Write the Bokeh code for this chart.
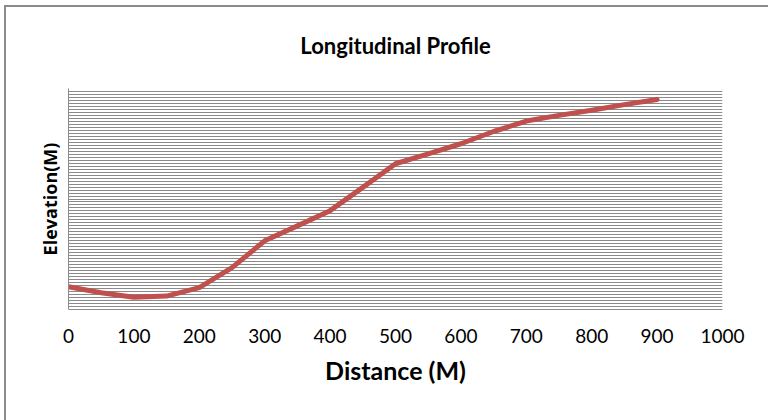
from bokeh.plotting import figure
from bokeh.models import Range1d, SingleIntervalTicker, FixedTicker
from bokeh.embed import file_html
from bokeh.resources import INLINE

# Data
distance = [0, 50, 100, 150, 200, 250, 300, 350, 400, 450, 500, 550, 600, 650, 700, 750, 800, 850, 900]
elevation = [7.6, 5.6, 4.1, 4.5, 7.3, 14.0, 23.0, 28.0, 33.1, 40.9, 48.8, 52.1, 55.5, 59.6, 63.1, 65.0, 66.7, 68.6, 70.3]
x_ticks = [0, 100, 200, 300, 400, 500, 600, 700, 800, 900, 1000]
title_text = "Longitudinal Profile"

p = figure(width=768, height=420, output_backend="svg", toolbar_location=None,
           x_range=Range1d(0, 1000), y_range=Range1d(0, 74),
           min_border_left=68, min_border_right=46, min_border_top=88, min_border_bottom=111,
           title=title_text)
# thin grey chart-area border (left and top edges) drawn behind a transparent canvas
p.border_fill_alpha = 0
p.styles = {
    "background-image": "linear-gradient(#8c8c8c, #8c8c8c), linear-gradient(#8c8c8c, #8c8c8c)",
    "background-size": "2px 100%, 100% 2px",
    "background-position": "4px 6px, 4px 5px",
    "background-repeat": "no-repeat",
    "background-color": "white",
}

p.title.align = "center"
p.title.text_font = "Lato"
p.title.text_font_size = "22px"
p.title.text_font_style = "bold"
p.title.text_color = "black"
p.title.standoff = 59

p.outline_line_color = None
p.background_fill_color = "white"

# x axis
p.xaxis.ticker = FixedTicker(ticks=x_ticks)
p.xaxis.major_tick_line_color = None
p.xaxis.minor_tick_line_color = None
p.xaxis.axis_line_color = "#8c8c8c"
p.xaxis.major_label_text_font = "Lato"
p.xaxis.major_label_text_font_size = "19px"
p.xaxis.major_label_text_color = "black"
p.xaxis.major_label_standoff = 13
p.xaxis.axis_label = "Distance (M)"
p.xaxis.axis_label_text_font = "Lato"
p.xaxis.axis_label_text_font_size = "25px"
p.xaxis.axis_label_text_font_style = "bold"
p.xaxis.axis_label_text_color = "black"
p.xaxis.axis_label_standoff = 9

# y axis (no tick labels)
p.yaxis.ticker = FixedTicker(ticks=[])
p.yaxis.major_tick_line_color = None
p.yaxis.minor_tick_line_color = None
p.yaxis.axis_line_color = "#8c8c8c"
p.yaxis.axis_label = "Elevation(M)"
p.yaxis.axis_label_text_font = "Open Sans"
p.yaxis.axis_label_text_font_size = "18px"
p.yaxis.axis_label_text_font_style = "bold"
p.yaxis.axis_label_text_color = "black"
p.yaxis.axis_label_standoff = 7

p.xgrid.grid_line_color = None
p.ygrid.ticker = SingleIntervalTicker(interval=1)
p.ygrid.grid_line_color = "#8a8a8a"
p.ygrid.grid_line_width = 1

p.line(distance, elevation, line_color="#C0504D", line_width=5, line_cap="round", line_join="round")

open("out.html", "w").write(file_html(p, INLINE))
